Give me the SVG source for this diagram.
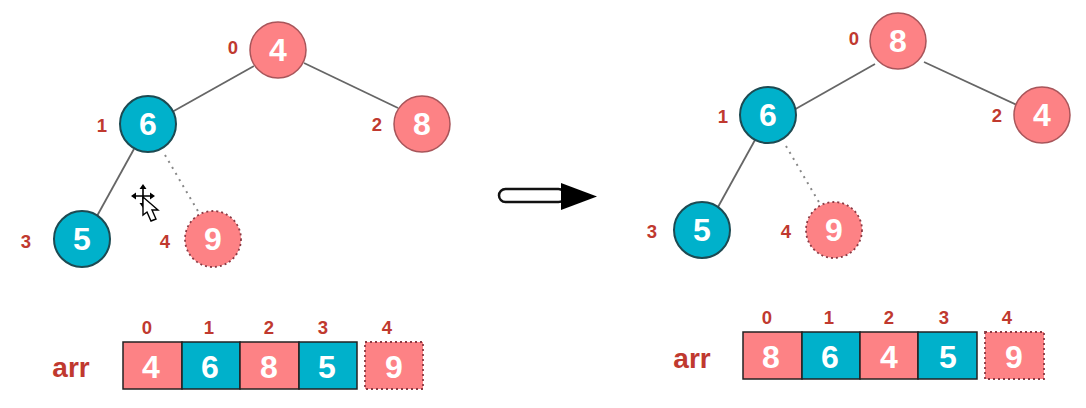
<svg xmlns="http://www.w3.org/2000/svg" width="1086" height="408" viewBox="0 0 1086 408">
<style>
text{font-family:"Liberation Sans",Arial,sans-serif;font-weight:700;text-anchor:middle}
.v{fill:#fff;font-size:32px}
.i{fill:#c0392f;font-size:18.5px}
.a{fill:#c0392f;font-size:28px}
.p{fill:#fd8285}
.b{fill:#00b1cb}
.s{stroke:#1d4a52;stroke-width:2}
.d{stroke:#8a3a44;stroke-width:1.8;stroke-dasharray:2 3;fill:#fd8285}
.e{stroke:#666;stroke-width:1.8;fill:none}
.o{stroke:#888;stroke-width:2;stroke-dasharray:2 5;fill:none}
.c{stroke:#a8555a;stroke-width:1.5}
.r{stroke:#222;stroke-width:1.5}
</style>
<rect width="1086" height="408" fill="#fff"/>
<g id="connectors">
<line class="e" x1="254" y1="66" x2="172" y2="112"/>
<line class="e" x1="304" y1="63" x2="398" y2="108"/>
<line class="e" x1="134" y1="149" x2="97" y2="216"/>
<line class="o" x1="165" y1="155" x2="199" y2="213"/>
<line class="e" x1="875" y1="64" x2="792" y2="111"/>
<line class="e" x1="924" y1="62" x2="1019" y2="106"/>
<line class="e" x1="755" y1="140" x2="718" y2="207"/>
<line class="o" x1="786" y1="146" x2="820" y2="204"/>
</g>
<g id="big-arrow">
<rect x="499" y="189" width="66" height="13" rx="6.5" fill="#fff" stroke="#111" stroke-width="2.5"/>
<polygon points="561,183 597,196.500 561,210" fill="#000"/>
</g>
<g id="cursor">
<path d="M143 187v18M134 196h18" stroke="#000" stroke-width="1.6" fill="none"/>
<path d="M143 184l-3.500 5h7zM143 208l-3.500-5h7zM131 196l5-3.500v7zM155 196l-5-3.500v7z" fill="#000"/>
<path d="M143 197v18l4-3 4 9 5-2-4-9h6z" fill="#fff" stroke="#000" stroke-width="1.4"/>
</g>
<g id="l0"><circle class="p c" cx="278" cy="50" r="28"/><text class="v" x="278" y="61">4</text><text class="i" x="233" y="54">0</text></g>
<g id="l1"><circle class="b s" cx="148" cy="124" r="28"/><text class="v" x="148" y="135">6</text><text class="i" x="102" y="132">1</text></g>
<g id="l2"><circle class="p c" cx="422" cy="124" r="28"/><text class="v" x="422" y="135">8</text><text class="i" x="377" y="131">2</text></g>
<g id="l3"><circle class="b s" cx="82" cy="239" r="28"/><text class="v" x="82" y="250">5</text><text class="i" x="26" y="248">3</text></g>
<g id="l4"><circle class="d" cx="213" cy="239" r="28"/><text class="v" x="213" y="250">9</text><text class="i" x="165" y="248">4</text></g>
<g id="r0"><circle class="p c" cx="898" cy="41" r="28"/><text class="v" x="898" y="52">8</text><text class="i" x="854" y="45">0</text></g>
<g id="r1"><circle class="b s" cx="768" cy="115" r="28"/><text class="v" x="768" y="126">6</text><text class="i" x="723" y="123">1</text></g>
<g id="r2"><circle class="p c" cx="1042" cy="115" r="28"/><text class="v" x="1042" y="126">4</text><text class="i" x="997" y="122">2</text></g>
<g id="r3"><circle class="b s" cx="702" cy="230" r="28"/><text class="v" x="702" y="241">5</text><text class="i" x="652" y="238">3</text></g>
<g id="r4"><circle class="d" cx="834" cy="230" r="28"/><text class="v" x="834" y="241">9</text><text class="i" x="786" y="238">4</text></g>
<g id="arr-left">
<text class="a" x="71" y="377">arr</text>
<rect class="p r" x="123" y="342" width="59" height="47"/><rect class="b r" x="182" y="342" width="58" height="47"/><rect class="p r" x="240" y="342" width="59" height="47"/><rect class="b r" x="299" y="342" width="58" height="47"/><rect class="d" x="365" y="342" width="58" height="47"/>
<text class="v" x="151" y="378">4</text><text class="v" x="210" y="378">6</text><text class="v" x="269" y="378">8</text><text class="v" x="327" y="378">5</text><text class="v" x="394" y="378">9</text>
<text class="i" x="147" y="334">0</text><text class="i" x="209" y="334">1</text><text class="i" x="269" y="334">2</text><text class="i" x="323" y="334">3</text><text class="i" x="387" y="334">4</text>
</g>
<g id="arr-right">
<text class="a" x="692" y="368">arr</text>
<rect class="p r" x="743" y="332" width="59" height="47"/><rect class="b r" x="802" y="332" width="58" height="47"/><rect class="p r" x="860" y="332" width="58" height="47"/><rect class="b r" x="918" y="332" width="59" height="47"/><rect class="d" x="985" y="332" width="59" height="47"/>
<text class="v" x="771" y="368">8</text><text class="v" x="830" y="368">6</text><text class="v" x="889" y="368">4</text><text class="v" x="948" y="368">5</text><text class="v" x="1014" y="368">9</text>
<text class="i" x="767" y="324">0</text><text class="i" x="829" y="324">1</text><text class="i" x="889" y="324">2</text><text class="i" x="944" y="324">3</text><text class="i" x="1007" y="324">4</text>
</g>
</svg>
